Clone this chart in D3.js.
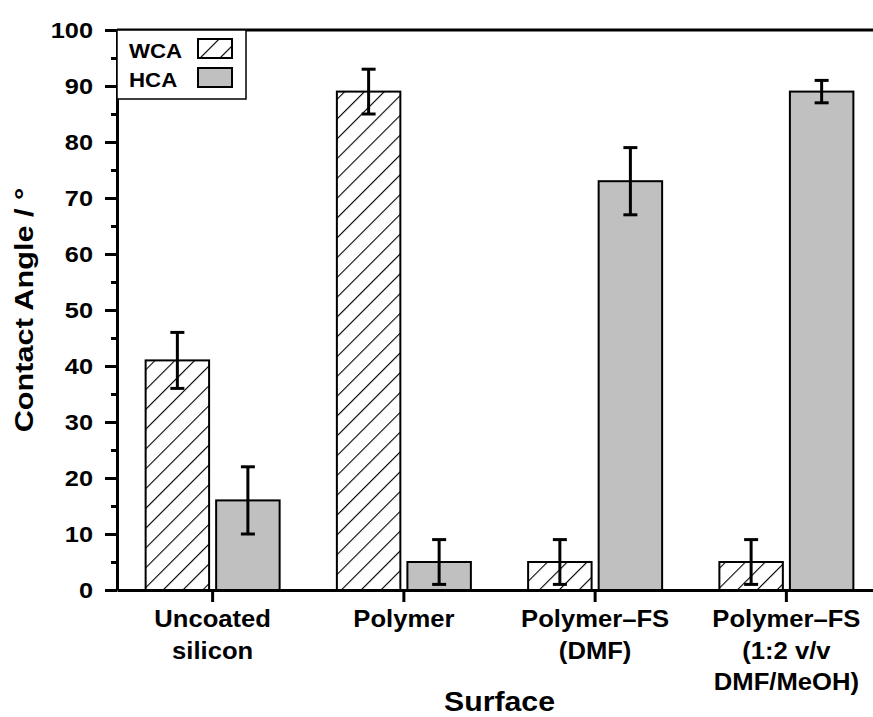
<!DOCTYPE html>
<html>
<head>
<meta charset="utf-8">
<script src="https://cdn.jsdelivr.net/npm/d3@7"></script>
<style>
  body { margin: 0; background: #fff; }
  text { font-family: "Liberation Sans", Arial, sans-serif; font-weight: bold; fill: #000; }
</style>
</head>
<body>
<div id="chart"></div>
<script>
var w = 873;
var h = 717;

// Data
var categories = ["Uncoated silicon", "Polymer", "Polymer–FS (DMF)", "Polymer–FS (1:2 v/v DMF/MeOH)"];
var categoryLines = [["Uncoated", "silicon"], ["Polymer"], ["Polymer–FS", "(DMF)"], ["Polymer–FS", "(1:2 v/v", "DMF/MeOH)"]];
var seriesNames = ["WCA", "HCA"];
var wcaValues = [41, 89, 5, 5];
var wcaErrors = [5, 4, 4, 4];
var hcaValues = [16, 5, 73, 89];
var hcaErrors = [6, 4, 6, 2];
var yTicks = [0, 10, 20, 30, 40, 50, 60, 70, 80, 90, 100];
var yMinorTicks = [5, 15, 25, 35, 45, 55, 65, 75, 85, 95];

var bars = d3.merge(categories.map(function(c, i) {
  return [
    { cat: c, series: "WCA", value: wcaValues[i], err: wcaErrors[i] },
    { cat: c, series: "HCA", value: hcaValues[i], err: hcaErrors[i] }
  ];
}));

// the source picture's text is a bit wider than Liberation Sans
function stretch(sel, k) {
  sel.each(function() {
    var len = this.getComputedTextLength();
    d3.select(this).attr("textLength", len * k).attr("lengthAdjust", "spacingAndGlyphs");
  });
}

var svg = d3.select("#chart").append("svg")
  .attr("width", w)
  .attr("height", h);

var pat = svg.append("defs").append("pattern")
  .attr("id", "hatch")
  .attr("patternUnits", "userSpaceOnUse")
  .attr("width", 14)
  .attr("height", 14)
  .attr("patternTransform", "rotate(45)");
pat.append("rect").attr("width", 14).attr("height", 14).attr("fill", "#fff");
pat.append("line")
  .attr("x1", 0).attr("y1", 0).attr("x2", 0).attr("y2", 14)
  .attr("stroke", "#000").attr("stroke-width", 2.2);

var m = { left: 117, top: 30, bottom: 590, right: 882 };

var x = d3.scaleBand()
  .domain(categories)
  .range([m.left, m.right]);

var xSub = d3.scaleBand()
  .domain(seriesNames)
  .range([-67, 67])
  .paddingInner(0.1);

var y = d3.scaleLinear()
  .domain([0, 100])
  .range([m.bottom, m.top]);

var fills = { WCA: "url(#hatch)", HCA: "#c0c0c0" };

function barX(d) { return x(d.cat) + x.bandwidth() / 2 + xSub(d.series); }

// bars
svg.selectAll("rect.bar")
  .data(bars)
  .enter()
  .append("rect")
  .attr("class", "bar")
  .attr("x", barX)
  .attr("y", function(d) { return y(d.value); })
  .attr("width", xSub.bandwidth())
  .attr("height", function(d) { return y(0) - y(d.value); })
  .attr("fill", function(d) { return fills[d.series]; })
  .attr("stroke", "#000")
  .attr("stroke-width", 2);

// error bars
var eb = svg.selectAll("g.err")
  .data(bars)
  .enter()
  .append("g")
  .attr("class", "err")
  .attr("transform", function(d) { return "translate(" + (barX(d) + xSub.bandwidth() / 2) + ",0)"; });
eb.append("line")
  .attr("x1", 0).attr("x2", 0)
  .attr("y1", function(d) { return y(d.value + d.err); })
  .attr("y2", function(d) { return y(d.value - d.err); })
  .attr("stroke", "#000").attr("stroke-width", 3);
eb.selectAll("line.cap")
  .data(function(d) { return [d.value + d.err, d.value - d.err]; })
  .enter()
  .append("line")
  .attr("class", "cap")
  .attr("x1", -7).attr("x2", 7)
  .attr("y1", function(v) { return y(v); })
  .attr("y2", function(v) { return y(v); })
  .attr("stroke", "#000").attr("stroke-width", 3);

// y axis
var yAxis = svg.append("g")
  .attr("transform", "translate(" + m.left + ",0)")
  .call(d3.axisLeft(y).tickValues(yTicks).tickSize(12).tickSizeOuter(0).tickPadding(12));
svg.append("g")
  .attr("transform", "translate(" + m.left + ",0)")
  .call(d3.axisLeft(y).tickValues(yMinorTicks).tickSize(6).tickFormat(""))
  .select(".domain").remove();

// x axis
svg.append("g")
  .attr("transform", "translate(0," + m.bottom + ")")
  .call(d3.axisBottom(x).tickSize(12).tickSizeOuter(0).tickFormat(""));

svg.selectAll(".domain, .tick line")
  .attr("stroke", "#000")
  .attr("stroke-width", 3);

yAxis.selectAll(".tick text")
  .attr("dy", "0.36em")
  .style("font-size", "22px")
  .style("font-family", "'Liberation Sans', Arial, sans-serif")
  .style("font-weight", "bold");
stretch(yAxis.selectAll(".tick text"), 1.15);

// top frame line
svg.append("line")
  .attr("x1", m.left).attr("x2", w)
  .attr("y1", m.top).attr("y2", m.top)
  .attr("stroke", "#000").attr("stroke-width", 3);

// category labels, one text per line
var catGroups = svg.selectAll("g.cat")
  .data(categories)
  .enter()
  .append("g")
  .attr("class", "cat")
  .attr("transform", function(d) { return "translate(" + (x(d) + x.bandwidth() / 2) + ",627)"; });
var catText = catGroups.selectAll("text")
  .data(function(d, i) { return categoryLines[i]; })
  .enter()
  .append("text")
  .attr("text-anchor", "middle")
  .attr("y", function(d, i) { return i * 31.5; })
  .style("font-size", "23.5px")
  .text(function(d) { return d; });
stretch(catText, 1.09);

// axis titles
var xTitle = svg.append("text")
  .attr("text-anchor", "middle")
  .attr("x", (m.left + m.right) / 2).attr("y", 711)
  .style("font-size", "27px")
  .text("Surface");
stretch(xTitle, 1.12);

var yTitle = svg.append("text")
  .attr("text-anchor", "middle")
  .attr("transform", "translate(33," + ((m.top + m.bottom) / 2) + ") rotate(-90)")
  .style("font-size", "26px")
  .text("Contact Angle / °");
stretch(yTitle, 1.18);

// legend
var legend = svg.append("g");
legend.append("rect")
  .attr("x", m.left).attr("y", m.top)
  .attr("width", 129).attr("height", 69)
  .attr("fill", "#fff").attr("stroke", "#000").attr("stroke-width", 1.5);
var li = legend.selectAll("g.item")
  .data(seriesNames)
  .enter()
  .append("g")
  .attr("class", "item")
  .attr("transform", function(d, i) { return "translate(0," + (i * 29) + ")"; });
var legText = li.append("text")
  .attr("x", 129).attr("y", 58)
  .style("font-size", "21px")
  .text(function(d) { return d; });
stretch(legText, 1.06);
li.append("rect")
  .attr("x", 198).attr("y", 39)
  .attr("width", 34).attr("height", 19)
  .attr("fill", function(d) { return fills[d]; })
  .attr("stroke", "#000").attr("stroke-width", 2);
</script>
</body>
</html>
